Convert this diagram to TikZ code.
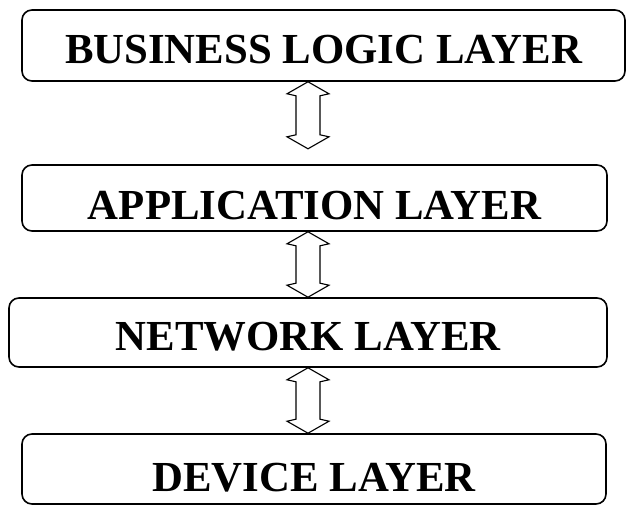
\documentclass[tikz,border=0pt]{standalone}
\usepackage{fontspec}
\setmainfont{Liberation Serif}
\usetikzlibrary{calc}
\tikzset{
  layer/.style={draw,line width=1.6pt,rounded corners=10pt,inner sep=0pt,
    font=\fontsize{42.8}{48}\selectfont\bfseries,text depth=0pt},
  hollow/.style={line width=1.1pt,fill=white,line join=miter}
}
\newcommand{\dblarrow}[2]{%
  \draw[hollow](#1)--++(-21,12)--++(9,2)--($(#2)+(-12,-14)$)--++(-9,2)--(#2)
    --++(21,-12)--++(-9,-2)--($(#1)+(12,14)$)--++(9,-2)--cycle;}
\begin{document}
\begin{tikzpicture}[x=1pt,y=-1pt]
\useasboundingbox (0,0) rectangle (626,505);
\node[layer,minimum width=603pt,minimum height=71pt,text height=36pt](biz) at(323.5,45.5){BUSINESS LOGIC LAYER};
\node[layer,minimum width=585pt,minimum height=66pt,text height=42pt](app) at(314.5,198){APPLICATION LAYER};
\node[layer,minimum width=598pt,minimum height=69pt,text height=36pt](net) at(308,332.5){NETWORK LAYER};
\node[layer,minimum width=584pt,minimum height=70pt,text height=44pt](dev) at(314,469){DEVICE LAYER};
\coordinate (ax) at(308,0);
\coordinate (t1) at(biz.south -| ax);
\coordinate (b1) at($(t1)+(0,67)$);
\coordinate (t2) at(app.south -| ax);
\coordinate (b2) at(net.north -| ax);
\coordinate (t3) at(net.south -| ax);
\coordinate (b3) at(dev.north -| ax);
\dblarrow{t1}{b1}
\dblarrow{t2}{b2}
\dblarrow{t3}{b3}
\end{tikzpicture}
\end{document}
